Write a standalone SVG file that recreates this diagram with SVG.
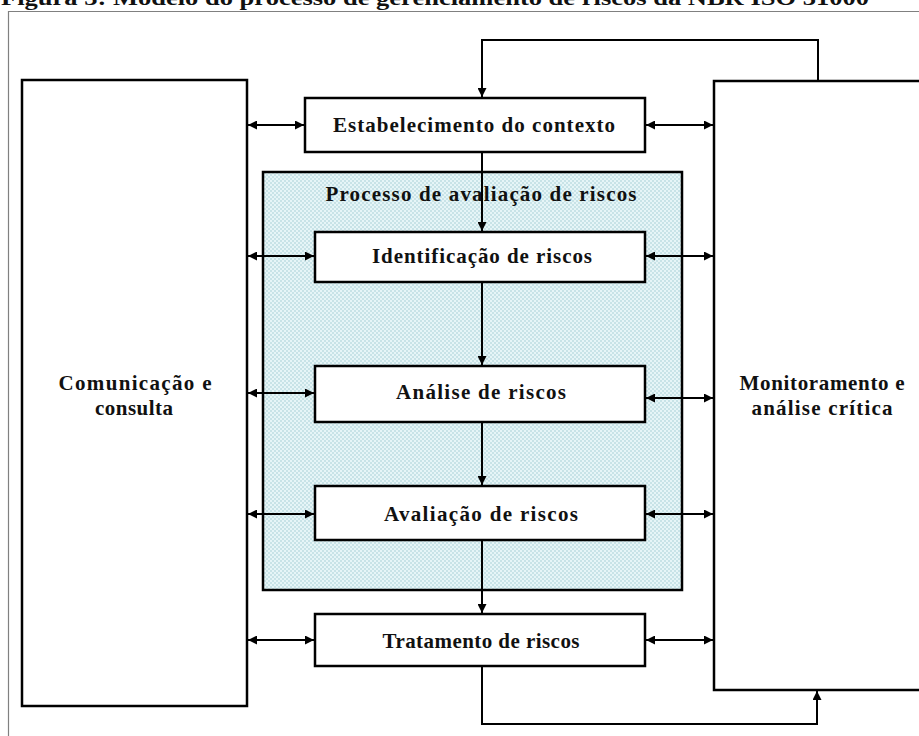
<svg xmlns="http://www.w3.org/2000/svg" width="919" height="736" viewBox="0 0 919 736">
<style>
.box{fill:#fff;stroke:#000;stroke-width:2.5}
.t{font-family:"Liberation Serif","Times New Roman",serif;font-weight:bold;font-size:21px;fill:#111}
.m{text-anchor:middle}
.c{stroke:#000;stroke-width:2;fill:none}
</style>
<defs>
<pattern id="hatch" width="4" height="4" patternUnits="userSpaceOnUse">
<rect width="4" height="4" fill="#e6f5f7"/>
<rect x="0" y="0" width="2" height="2" fill="#c8e3e7"/>
<rect x="2" y="2" width="2" height="2" fill="#c8e3e7"/>
</pattern>
<marker id="ah" viewBox="0 0 10 10" refX="10" refY="5" markerWidth="9" markerHeight="9" markerUnits="userSpaceOnUse" orient="auto-start-reverse">
<path d="M0,0 L10,5 L0,10 Z" fill="#000"/>
</marker>
</defs>
<rect width="919" height="736" fill="#fff"/>
<text class="t" x="1" y="5" textLength="868" lengthAdjust="spacingAndGlyphs">Figura 3: Modelo do processo de gerenciamento de riscos da NBR ISO 31000</text>
<path d="M8.5,736 V11.5 H919" fill="none" stroke="#808080" stroke-width="1.2"/>

<g id="comunicacao">
<rect class="box" x="22" y="80" width="225" height="626"/>
<text class="t m" x="135" y="390" textLength="153">Comunicação e</text>
<text class="t m" x="134" y="415" textLength="78">consulta</text>
</g>
<g id="monitoramento">
<rect class="box" x="714" y="81" width="220" height="609"/>
<text class="t m" x="822" y="390" textLength="165">Monitoramento e</text>
<text class="t m" x="822" y="415" textLength="141">análise crítica</text>
</g>
<g id="processo">
<rect x="263" y="172" width="419" height="418" fill="url(#hatch)" stroke="#000" stroke-width="2.5"/>
<text class="t m" x="481" y="201" textLength="311">Processo de avaliação de riscos</text>
</g>
<g id="contexto">
<rect class="box" x="305" y="98" width="340" height="54"/>
<text class="t m" x="474" y="132" textLength="282">Estabelecimento do contexto</text>
</g>
<g id="identificacao">
<rect class="box" x="315" y="232" width="330" height="50"/>
<text class="t m" x="482" y="263" textLength="220">Identificação de riscos</text>
</g>
<g id="analise">
<rect class="box" x="315" y="366" width="330" height="56"/>
<text class="t m" x="481" y="399" textLength="170">Análise de riscos</text>
</g>
<g id="avaliacao">
<rect class="box" x="315" y="486" width="330" height="54"/>
<text class="t m" x="481" y="521" textLength="194">Avaliação de riscos</text>
</g>
<g id="tratamento">
<rect class="box" x="315" y="614" width="330" height="52"/>
<text class="t m" x="481" y="648" textLength="197">Tratamento de riscos</text>
</g>

<g id="connectors">
<path class="c" d="M818,81 V40 H482 V97" marker-end="url(#ah)"/>
<path class="c" d="M482,152 V231" marker-end="url(#ah)"/>
<path class="c" d="M482,282 V365" marker-end="url(#ah)"/>
<path class="c" d="M482,422 V485" marker-end="url(#ah)"/>
<path class="c" d="M482,540 V613" marker-end="url(#ah)"/>
<path class="c" d="M482,666 V724 H817 V691" marker-end="url(#ah)"/>
<path class="c" d="M248,125 H304" marker-start="url(#ah)" marker-end="url(#ah)"/>
<path class="c" d="M646,125 H713" marker-start="url(#ah)" marker-end="url(#ah)"/>
<path class="c" d="M248,256 H314" marker-start="url(#ah)" marker-end="url(#ah)"/>
<path class="c" d="M646,256 H713" marker-start="url(#ah)" marker-end="url(#ah)"/>
<path class="c" d="M248,393 H314" marker-start="url(#ah)" marker-end="url(#ah)"/>
<path class="c" d="M646,398 H713" marker-start="url(#ah)" marker-end="url(#ah)"/>
<path class="c" d="M248,514 H314" marker-start="url(#ah)" marker-end="url(#ah)"/>
<path class="c" d="M646,514 H713" marker-start="url(#ah)" marker-end="url(#ah)"/>
<path class="c" d="M248,640 H314" marker-start="url(#ah)" marker-end="url(#ah)"/>
<path class="c" d="M646,640 H713" marker-start="url(#ah)" marker-end="url(#ah)"/>
</g>
</svg>
